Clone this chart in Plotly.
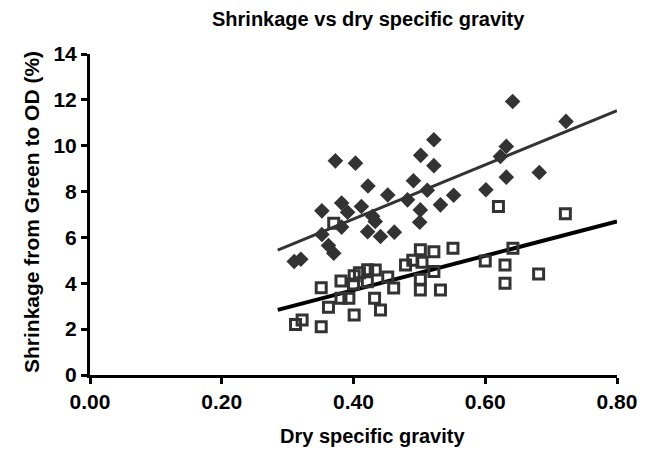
import plotly.graph_objects as go

# Diamonds (upper series)
dia_x = [0.31, 0.32, 0.352, 0.352, 0.362, 0.37, 0.3725, 0.382, 0.391, 0.382, 0.403, 0.412,
         0.422, 0.429, 0.433, 0.4215, 0.441, 0.452, 0.462, 0.482, 0.491, 0.502, 0.5015, 0.5005,
         0.512, 0.522, 0.522, 0.532, 0.552, 0.601, 0.623, 0.632, 0.632, 0.6416, 0.682, 0.7226]
dia_y = [4.95, 5.05, 6.13, 7.16, 5.65, 5.31, 9.34, 7.5, 7.1, 6.45, 9.24, 7.35,
         8.24, 6.92, 6.7, 6.25, 6.04, 7.85, 6.23, 7.64, 8.47, 9.58, 7.2, 6.66,
         8.06, 10.26, 9.13, 7.42, 7.84, 8.08, 9.53, 9.97, 8.63, 11.93, 8.83, 11.06]

# Open squares (lower series)
sq_x = [0.312, 0.322, 0.351, 0.351, 0.362, 0.37, 0.381, 0.381, 0.393, 0.401, 0.401, 0.40,
        0.409, 0.4215, 0.433, 0.421, 0.432, 0.441, 0.452, 0.461, 0.479, 0.49, 0.5015, 0.504,
        0.5015, 0.5015, 0.522, 0.522, 0.532, 0.551, 0.60, 0.62, 0.642, 0.63, 0.63, 0.681, 0.7216]
sq_y = [2.2, 2.4, 2.1, 3.8, 2.95, 6.62, 4.1, 3.35, 3.35, 2.62, 4.33, 3.97,
        4.46, 4.59, 4.58, 4.07, 3.35, 2.84, 4.27, 3.79, 4.8, 5.0, 5.46, 4.92,
        4.18, 3.71, 5.38, 4.51, 3.71, 5.53, 4.97, 7.35, 5.53, 4.8, 4.0, 4.41, 7.03]

# Trend line end points
fit_x = [0.285, 0.80]
fit_upper = [5.45, 11.53]
fit_lower = [2.84, 6.70]

x_ticks = [0.0, 0.2, 0.4, 0.6, 0.8]
y_ticks = [0, 2, 4, 6, 8, 10, 12, 14]

FONT = "Arial, Liberation Sans, sans-serif"
OFF = 8  # page body margin offset
W, H = 653, 453
# target plot area in window pixels: x 90..617, y 54..375
L, R = 90 - OFF, W - (617 - OFF)
T, B = 54 - OFF, H - (375 - OFF)
PW, PH = W - L - R, H - T - B


def px(xw):
    return (xw - OFF - L) / PW


def py(yw):
    return (H - B - (yw - OFF)) / PH


fig = go.Figure()
fig.add_trace(go.Scatter(x=fit_x, y=fit_upper, mode="lines",
                         line=dict(color="#333333", width=3), hoverinfo="skip"))
fig.add_trace(go.Scatter(x=fit_x, y=fit_lower, mode="lines",
                         line=dict(color="#000000", width=4), hoverinfo="skip"))
fig.add_trace(go.Scatter(x=dia_x, y=dia_y, mode="markers",
                         marker=dict(symbol="diamond", size=12, color="#333333",
                                     line=dict(width=0))))
fig.add_trace(go.Scatter(x=sq_x, y=sq_y, mode="markers",
                         marker=dict(symbol="square-open", size=10, color="#333333",
                                     line=dict(width=3, color="#333333"))))

fig.update_layout(
    width=W, height=H,
    margin=dict(l=L, r=R, t=T, b=B),
    paper_bgcolor="white", plot_bgcolor="white",
    showlegend=False,
    font=dict(family=FONT, color="black", size=20, weight="bold"),
    annotations=[
        dict(text="Shrinkage vs dry specific gravity", xref="paper", yref="paper",
             x=px(368), y=py(19), xanchor="center", yanchor="middle", showarrow=False,
             font=dict(family=FONT, size=20, color="black", weight="bold")),
        dict(text="Dry specific gravity", xref="paper", yref="paper",
             x=px(372), y=py(436), xanchor="center", yanchor="middle", showarrow=False,
             font=dict(family=FONT, size=20, color="black", weight="bold")),
        dict(text="Shrinkage from Green to OD (%)", xref="paper", yref="paper",
             x=px(31), y=py(212), xanchor="center", yanchor="middle", showarrow=False,
             textangle=-90,
             font=dict(family=FONT, size=21, color="black", weight="bold")),
    ],
)
fig.update_xaxes(range=[0, 0.8], tickvals=x_ticks, tickformat=".2f",
                 showgrid=False, zeroline=False, automargin=False,
                 showline=True, linecolor="black", linewidth=3,
                 ticks="outside", ticklen=6, tickwidth=3, tickcolor="black",
                 tickfont=dict(family=FONT, size=21, color="black", weight="bold"))
fig.update_yaxes(range=[0, 14], tickvals=y_ticks,
                 showgrid=False, zeroline=False, automargin=False,
                 showline=True, linecolor="black", linewidth=3,
                 ticks="outside", ticklen=6, tickwidth=3, tickcolor="black",
                 tickfont=dict(family=FONT, size=21, color="black", weight="bold"))

fig.write_html("out.html")
